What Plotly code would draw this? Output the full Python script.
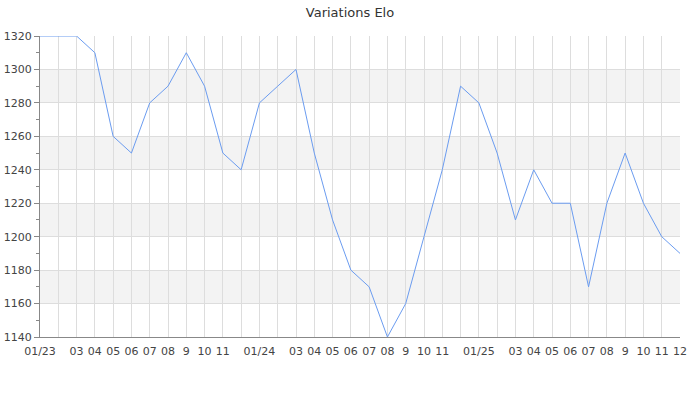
import plotly.graph_objects as go

# monthly Elo values, 01/2023 -> 12/2025
months = list(range(36))
elo = [1320, 1320, 1320, 1310, 1260, 1250, 1280, 1290, 1310, 1290, 1250, 1240,
       1280, 1290, 1300, 1250, 1210, 1180, 1170, 1140, 1160, 1200, 1240, 1290,
       1280, 1250, 1210, 1240, 1220, 1220, 1170, 1220, 1250, 1220, 1200, 1190]

month_labels = ["01/23", "", "03", "04", "05", "06", "07", "08", "9", "10", "11", "",
                "01/24", "", "03", "04", "05", "06", "07", "08", "9", "10", "11", "",
                "01/25", "", "03", "04", "05", "06", "07", "08", "9", "10", "11", "12"]

# alternating grey bands on the y axis
bands = [(1160, 1180), (1200, 1220), (1240, 1260), (1280, 1300)]

FONT = "DejaVu Sans, sans-serif"

fig = go.Figure()

fig.add_trace(go.Scatter(
    x=months, y=elo,
    mode="lines",
    line=dict(color="#6b9cf0", width=1),
    showlegend=False,
    hoverinfo="skip",
))

for lo, hi in bands:
    fig.add_shape(type="rect", xref="paper", yref="y",
                  x0=0, x1=1, y0=lo, y1=hi,
                  fillcolor="#f3f3f3", line=dict(width=0), layer="below")

fig.update_layout(
    width=700, height=400,
    title=dict(text="Variations Elo", x=0.5, xanchor="center",
               y=0.97, yanchor="middle", automargin=False,
               font=dict(family=FONT, size=13, color="#333")),
    font=dict(family=FONT, size=11, color="#444"),
    paper_bgcolor="white",
    plot_bgcolor="white",
    margin=dict(l=40, r=20, t=36, b=63, autoexpand=False),
    xaxis=dict(
        range=[0, 35], automargin=False,
        tickvals=months, ticktext=month_labels,
        tickangle=0, ticklabelstandoff=4,
        showgrid=True, gridcolor="#dddddd", gridwidth=1,
        showline=True, linecolor="#888", linewidth=1,
        ticks="", zeroline=False,
    ),
    yaxis=dict(
        range=[1140, 1320], dtick=20, automargin=False,
        showgrid=True, gridcolor="#dddddd", gridwidth=1,
        showline=True, linecolor="#888", linewidth=1,
        ticks="outside", ticklen=5, tickcolor="#888",
        minor=dict(dtick=10, ticks="outside", ticklen=3, tickcolor="#888", showgrid=False),
        zeroline=False,
    ),
)

# drop the default 8px body margin so the figure sits at the page corner
fig.write_html("out.html", config={"displayModeBar": False},
               post_script="document.body.style.margin='0px';")
